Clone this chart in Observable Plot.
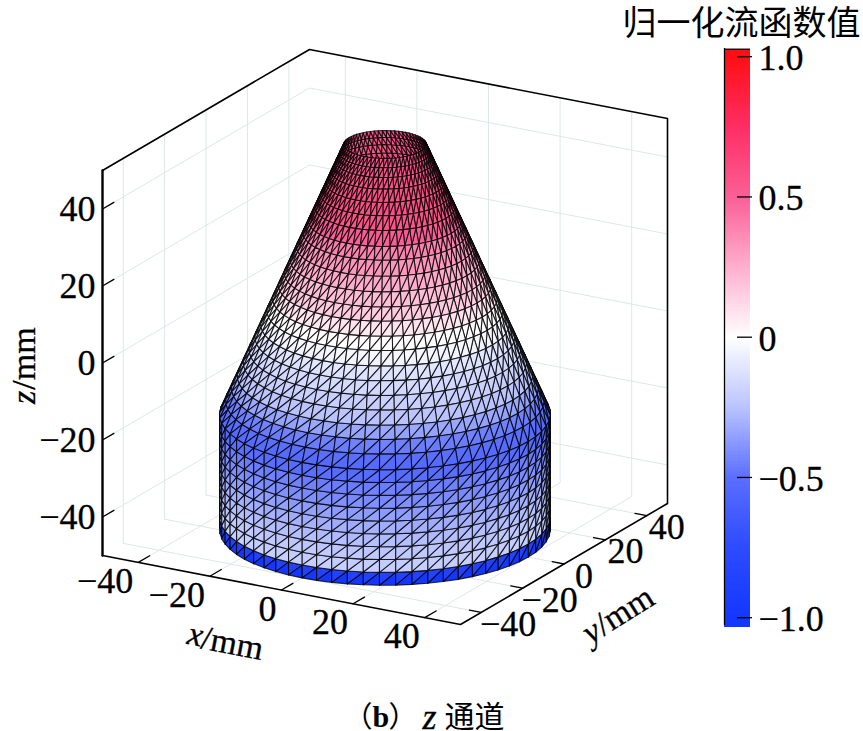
<!DOCTYPE html>
<html><head><meta charset="utf-8">
<script src="https://cdn.jsdelivr.net/npm/d3@7"></script>
<script src="https://cdn.jsdelivr.net/npm/@observablehq/plot@0.6"></script>
<style>html,body{margin:0;padding:0;background:#fff}svg{display:block}</style>
</head><body><div id="chart"></div>
<script>
// ---- data ----
const tickValues = [-40, -20, 0, 20, 40];
const colorbarTicks = [1, 0.5, 0, -0.5, -1];
const colorbarLabels = ["1.0", "0.5", "0", "−0.5", "−1.0"];
const ringZ = [-50,-46.67,-43.33,-40,-36.67,-33.33,-30,-26.67,-23.33,-20,-16.5,-13.2,-10,-6.6,-3.3,0,3.3,6.8,10,13.4,16.6,20,23.5,27.1,30.2,33.8,37.1,40.1,43.1,45.7,47.9,50];
const ringR = [40,40,40,40,40,40,40,40,40,40,38.5,37.09,35.71,34.26,32.84,31.43,30.01,28.51,27.14,25.69,24.31,22.86,21.36,19.81,18.49,16.94,15.53,14.24,12.96,11.84,10.9,10];
const bandLower = [-1,-.2,-.22,-.26,-.3,-.35,-.4,-.44,-.5,-.53,-.46,-.35,-.25,-.2,-.16,-.12,-.05,0,.07,.15,.2,.25,.32,.38,.5,.55,.58,.58,.56,.55,.55];
const bandUpper = [-.86,-.21,-.24,-.28,-.32,-.37,-.42,-.46,-.52,-.5,-.44,-.33,-.24,-.19,-.15,-.1,-.03,.01,.09,.17,.21,.27,.33,.4,.52,.56,.58,.57,.56,.55,.55];
const segments = 64;
const colorStops = [-1, -0.75, -0.5, -0.25, 0, 0.25, 0.5, 0.75, 1];
const colorRange = ["rgb(20,55,255)","rgb(45,75,255)","rgb(90,110,255)","rgb(185,195,255)","#ffffff","rgb(255,175,205)","rgb(250,95,150)","rgb(255,45,100)","rgb(255,15,20)"];

// ---- oblique view of the 3D box ----
const project = (x, y, z) => [384.5 + 3.58 * x + 2.07 * y, 336.5 + 0.69 * x - 1.21 * y - 3.85 * z];
const depth = (x, y, z) => 2.07 * x - 3.58 * y + 1.5 * z;
const L = 50;

function path(id, pts) { return pts.map(p => { const [sx, sy] = project(...p); return {id, sx, sy}; }); }

// mesh
const tris = [];
for (let j = 0; j < ringZ.length - 1; j++) {
  for (let i = 0; i < segments; i++) {
    const t0 = (i / segments) * 2 * Math.PI, t1 = ((i + 1) / segments) * 2 * Math.PI;
    const P = (t, k) => [ringR[k] * Math.cos(t), ringR[k] * Math.sin(t), ringZ[k]];
    tris.push({v: bandLower[j], pts: [P(t0, j), P(t1, j), P(t1, j + 1), P(t0, j)]});
    tris.push({v: bandUpper[j], pts: [P(t0, j), P(t1, j + 1), P(t0, j + 1), P(t0, j)]});
  }
}
tris.forEach(t => { const [a, b, c] = t.pts; t.d = (depth(...a) + depth(...b) + depth(...c)) / 3; });
tris.sort((a, b) => a.d - b.d);
const meshRows = tris.flatMap((t, id) => path(id, t.pts).map(r => ({...r, v: t.v})));

// grid on the floor and the two back walls
const grid = [];
let gid = 0;
for (const t of tickValues) {
  grid.push(...path(gid++, [[t, -L, -L], [t, L, -L], [t, L, L]]));
  grid.push(...path(gid++, [[-L, t, -L], [L, t, -L]]));
  grid.push(...path(gid++, [[-L, t, -L], [-L, t, L]]));
  grid.push(...path(gid++, [[-L, -L, t], [-L, L, t], [L, L, t]]));
}
const boxThin = path("a", [[-L, -L, L], [-L, L, L], [L, L, L], [L, L, -L], [L, -L, -L], [-L, -L, -L]]);
const boxLeft = path("b", [[-L, -L, -L], [-L, -L, L]]);

const ticks3d = [];
let tid = 0;
for (const t of tickValues) {
  ticks3d.push(...path(tid++, [[t, -L, -L], [t, -L + 5.5, -L]]));
  ticks3d.push(...path(tid++, [[L, t, -L], [L - 3.3, t, -L]]));
  ticks3d.push(...path(tid++, [[-L, -L, t], [-L, -L + 5.5, t]]));
}
const lab = t => String(t).replace("-", "−");
const xLabels = tickValues.map(t => { const [sx, sy] = project(t, -L, -L); return {sx: sx - 5, sy: sy + 19, t: lab(t)}; });
const yLabels = tickValues.map(t => { const [sx, sy] = project(L, t, -L); return {sx: sx + (t < 0 ? 27 : 20), sy: sy + 12, t: lab(t)}; });
const zLabels = tickValues.map(t => { const [sx, sy] = project(-L, -L, t); return {sx: sx - 7, sy: sy, t: lab(t)}; });

const barY = v => 336.7 - 280.5 * v;
const barSteps = d3.range(-1.028, 1.026, 0.005);

const serif = "'Liberation Serif','Noto Sans CJK SC',serif";
const cjk = "'Noto Sans CJK SC',sans-serif";
const label = {fontFamily: serif, fontSize: 36, fill: "black", stroke: "black", strokeWidth: 0.3};
const title = {...label, fontSize: 34};

const words = (t, x, y, opts) => Plot.text([t], {x: () => x, y: () => y, text: d => d, ...title, ...opts});

const chart = Plot.plot({
  width: 863, height: 731,
  margin: 0,
  x: {domain: [0, 863], range: [0, 863], axis: null},
  y: {domain: [0, 731], range: [0, 731], axis: null},
  color: {type: "linear", domain: colorStops, range: colorRange, interpolate: "rgb", clamp: true},
  marks: [
    Plot.line(grid, {x: "sx", y: "sy", z: "id", stroke: "#dde7e7", strokeWidth: 1}),
    Plot.line(meshRows, {x: "sx", y: "sy", z: "id", fill: "v", stroke: "black", strokeWidth: 1.1, strokeOpacity: 0.8, curve: "linear", strokeLinejoin: "round"}),
    Plot.line(boxThin, {x: "sx", y: "sy", z: "id", stroke: "black", strokeWidth: 1.6}),
    Plot.line(boxLeft, {x: "sx", y: "sy", z: "id", stroke: "black", strokeWidth: 2.4}),
    Plot.line(ticks3d, {x: "sx", y: "sy", z: "id", stroke: "black", strokeWidth: 1.3}),
    Plot.text(xLabels, {x: "sx", y: "sy", text: "t", textAnchor: "end", ...label}),
    Plot.text(yLabels, {x: "sx", y: "sy", text: "t", textAnchor: "middle", ...label}),
    Plot.text(zLabels, {x: "sx", y: "sy", text: "t", textAnchor: "end", ...label}),
    // axis titles
    words("x", 195, 634, {fontStyle: "italic", rotate: 11}),
    words("/mm", 232, 643, {rotate: 11}),
    words("y", 591, 631, {fontStyle: "italic", rotate: -32}),
    words("/mm", 624, 610, {rotate: -32}),
    words("z", 24, 397, {fontStyle: "italic", rotate: -90}),
    words("/mm", 24, 358, {rotate: -90}),
    // colour bar
    Plot.rect(barSteps, {x1: () => 724, x2: () => 750, y1: v => barY(v) + 1.5, y2: v => barY(v + 0.005), fill: d => d, shapeRendering: "crispEdges"}),
    Plot.ruleX([724], {y1: () => 48, y2: () => 625, stroke: "black", strokeWidth: 1.3}),
    Plot.ruleY([48.7], {x1: () => 724, x2: () => 750, stroke: "black", strokeWidth: 1.3}),
    Plot.ruleY(colorbarTicks, {y: barY, x1: () => 737, x2: () => 752, stroke: "black", strokeWidth: 1.3}),
    Plot.text(colorbarTicks, {x: () => 758, y: v => barY(v) + 2, text: (v, i) => colorbarLabels[i], textAnchor: "start", ...label}),
    // title and caption
    words("归一化流函数值", 741, 24, {fontFamily: cjk, fontSize: 34, strokeWidth: 0}),
    words("（", 343, 717, {textAnchor: "start", fontFamily: cjk, fontSize: 29, strokeWidth: 0}),
    words("b", 372, 717, {textAnchor: "start", fontWeight: "bold", fontSize: 30, strokeWidth: 0}),
    words("）", 388, 717, {textAnchor: "start", fontFamily: cjk, fontSize: 29, strokeWidth: 0}),
    words("z", 422, 717, {textAnchor: "start", fontStyle: "italic", fontSize: 36}),
    words("通道", 444, 717, {textAnchor: "start", fontFamily: cjk, fontSize: 30, strokeWidth: 0})
  ]
});
document.getElementById("chart").appendChild(chart);
</script>
</body></html>
